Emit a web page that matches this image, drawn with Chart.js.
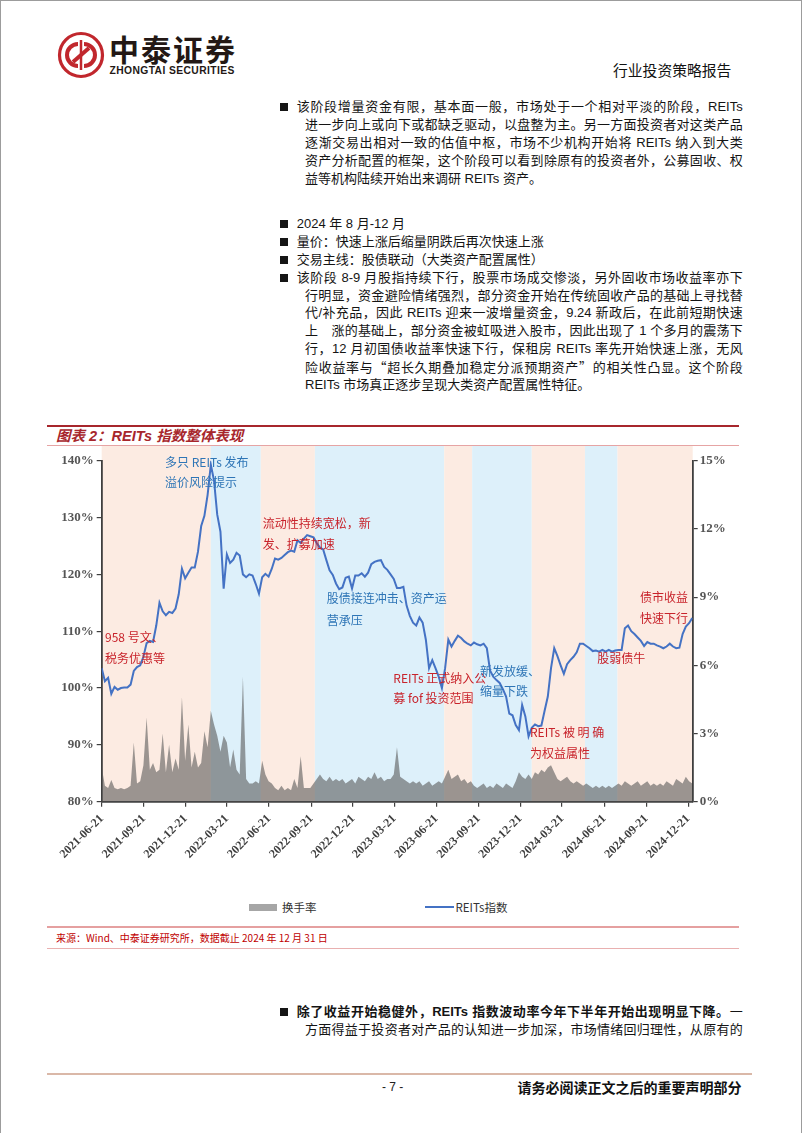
<!DOCTYPE html>
<html><head><meta charset="utf-8">
<script src="https://cdn.jsdelivr.net/npm/chart.js"></script>
<style>
html,body{margin:0;padding:0;background:#fff;}
#page{position:relative;width:802px;height:1133px;overflow:hidden;background:#fff;font-family:"Liberation Sans","Noto Sans CJK SC",sans-serif;color:#141414;}
.ln{position:absolute;font-size:13px;line-height:16px;height:16px;white-space:normal;overflow:visible;}
.j{text-align:justify;text-align-last:justify;}
.blt{position:absolute;width:8px;height:8px;background:#151515;}
.ann{position:absolute;font-family:"Noto Sans CJK SC",sans-serif;font-size:12px;line-height:14px;white-space:nowrap;}
.red{color:#c8232b}.blue{color:#2e75b6}
.rule{position:absolute;}
.cq{font-family:"Noto Sans CJK SC",sans-serif;}
</style></head>
<body>
<div id="page">
  <div class="rule" style="left:0;top:0;width:802px;height:1px;background:#9c9c9c"></div>
  <div class="rule" style="left:0;top:0;width:1px;height:1133px;background:#9c9c9c"></div>
  <div class="rule" style="left:801px;top:0;width:1px;height:1133px;background:#9c9c9c"></div>

  <!-- header -->
  <svg style="position:absolute;left:57px;top:31px" width="48" height="48" viewBox="0 0 48 48">
    <circle cx="24" cy="24" r="21.5" fill="#fff" stroke="#c1272d" stroke-width="3.2"/>
    <path d="M21 13 A11 11 0 1 0 21 35" fill="none" stroke="#c1272d" stroke-width="4"/>
    <path d="M27 13 A11 11 0 1 1 27 35" fill="none" stroke="#c1272d" stroke-width="4"/>
    <path d="M16 31 L32 17" stroke="#c1272d" stroke-width="4"/>
    <path d="M24 9 L24 39" stroke="#c1272d" stroke-width="2.5"/>
  </svg>
  <div style="position:absolute;left:109px;top:32px;font-family:'Noto Sans CJK SC';font-weight:bold;font-size:30px;line-height:33px;letter-spacing:2px;color:#231815">中泰证券</div>
  <div style="position:absolute;left:109.5px;top:65px;font-family:'Liberation Sans';font-weight:bold;font-size:10.3px;line-height:12px;letter-spacing:0.4px;color:#231815">ZHONGTAI SECURITIES</div>
  <div style="position:absolute;left:613px;top:62px;font-family:'Noto Sans CJK SC';font-size:14.8px;line-height:16px;color:#111">行业投资策略报告</div>

  <!-- paragraph 1 -->
  <div class="blt" style="left:279.5px;top:103.3px"></div>
  <div class="ln j" style="left:296.7px;top:99.3px;width:446px">该阶段增量资金有限，基本面一般，市场处于一个相对平淡的阶段，REITs</div>
  <div class="ln j" style="left:305px;top:117.3px;width:437.7px">进一步向上或向下或都缺乏驱动，以盘整为主。另一方面投资者对这类产品</div>
  <div class="ln j" style="left:305px;top:135.3px;width:437.7px">逐渐交易出相对一致的估值中枢，市场不少机构开始将 REITs 纳入到大类</div>
  <div class="ln j" style="left:305px;top:153.3px;width:437.7px">资产分析配置的框架，这个阶段可以看到除原有的投资者外，公募固收、权</div>
  <div class="ln" style="left:305px;top:171.3px;width:437.7px">益等机构陆续开始出来调研 REITs 资产。</div>

  <!-- block 2 -->
  <div class="blt" style="left:279.5px;top:220.3px"></div>
  <div class="ln" style="left:296.7px;top:216.3px;width:446px">2024 年 8 月-12 月</div>
  <div class="blt" style="left:279.5px;top:238.1px"></div>
  <div class="ln" style="left:296.7px;top:234.1px;width:446px">量价：快速上涨后缩量阴跌后再次快速上涨</div>
  <div class="blt" style="left:279.5px;top:255.9px"></div>
  <div class="ln" style="left:296.7px;top:251.9px;width:446px">交易主线：股债联动（大类资产配置属性）</div>
  <div class="blt" style="left:279.5px;top:273.7px"></div>
  <div class="ln j" style="left:296.7px;top:269.7px;width:446px">该阶段 8-9 月股指持续下行，股票市场成交惨淡，另外固收市场收益率亦下</div>
  <div class="ln j" style="left:305px;top:287.5px;width:437.7px">行明显，资金避险情绪强烈，部分资金开始在传统固收产品的基础上寻找替</div>
  <div class="ln j" style="left:305px;top:305.3px;width:437.7px">代/补充品，因此 REITs 迎来一波增量资金，9.24 新政后，在此前短期快速</div>
  <div class="ln j" style="left:305px;top:323.1px;width:437.7px">上　涨的基础上，部分资金被虹吸进入股市，因此出现了 1 个多月的震荡下</div>
  <div class="ln j" style="left:305px;top:340.9px;width:437.7px">行，12 月初国债收益率快速下行，保租房 REITs 率先开始快速上涨，无风</div>
  <div class="ln j" style="left:305px;top:358.7px;width:437.7px">险收益率与<span class="cq">“</span>超长久期叠加稳定分派预期资产<span class="cq">”</span>的相关性凸显。这个阶段</div>
  <div class="ln" style="left:305px;top:376.5px;width:437.7px">REITs 市场真正逐步呈现大类资产配置属性特征。</div>

  <!-- chart frame -->
  <div class="rule" style="left:47px;top:424.7px;width:692px;height:2px;background:#a7262c"></div>
  <div style="position:absolute;left:56px;top:428px;font-family:'Liberation Sans','Noto Sans CJK SC';font-weight:bold;font-style:italic;font-size:14.5px;line-height:16px;color:#a7262c">图表 2：REITs 指数整体表现</div>
  <div class="rule" style="left:47px;top:444.5px;width:692px;height:1px;background:#e6a4a4"></div>

  <div style="position:absolute;left:40px;top:446px;width:720px;height:420px">
    <canvas id="c" width="720" height="420" style="width:720px;height:420px"></canvas>
  </div>

  <!-- annotations -->
  <div class="ann blue" style="left:165px;top:454.7px">多只 REITs 发布</div>
  <div class="ann blue" style="left:165px;top:475.3px">溢价风险提示</div>
  <div class="ann red" style="left:262.7px;top:515.7px">流动性持续宽松，新</div>
  <div class="ann red" style="left:262.7px;top:537.3px">发、扩募加速</div>
  <div class="ann blue" style="left:326.7px;top:590.7px">股债接连冲击、资产运</div>
  <div class="ann blue" style="left:326.7px;top:613px">营承压</div>
  <div class="ann red" style="left:105px;top:630.3px">958 号文、</div>
  <div class="ann red" style="left:105px;top:651.3px">税务优惠等</div>
  <div class="ann red" style="left:393.3px;top:670.7px">REITs 正式纳入公</div>
  <div class="ann red" style="left:393.3px;top:691.3px">募 fof 投资范围</div>
  <div class="ann blue" style="left:480px;top:663.7px">新发放缓、</div>
  <div class="ann blue" style="left:480px;top:683.7px">缩量下跌</div>
  <div class="ann red" style="left:530px;top:724.7px">REITs 被 明 确</div>
  <div class="ann red" style="left:530px;top:746.3px">为权益属性</div>
  <div class="ann red" style="left:597.3px;top:651.3px">股弱债牛</div>
  <div class="ann red" style="left:640px;top:590.3px">债市收益</div>
  <div class="ann red" style="left:640px;top:611.3px">快速下行</div>

  <!-- legend -->
  <div class="rule" style="left:249px;top:904px;width:27.5px;height:7px;background:#a6a6a6"></div>
  <div style="position:absolute;left:282px;top:899.3px;font-family:'Noto Sans CJK SC';font-size:11.5px;line-height:16px;color:#333">换手率</div>
  <div class="rule" style="left:425px;top:906.3px;width:28.5px;height:2px;background:#4472c4"></div>
  <div style="position:absolute;left:455.5px;top:899.3px;font-family:'Noto Sans CJK SC';font-size:11.5px;line-height:16px;color:#333">REITs指数</div>

  <!-- source -->
  <div class="rule" style="left:47px;top:926px;width:692px;height:1.5px;background:#e5a0a0"></div>
  <div style="position:absolute;left:56px;top:931.2px;font-family:'Noto Sans CJK SC';font-size:10px;line-height:13px;color:#c00000">来源：Wind、中泰证券研究所，数据截止 2024 年 12 月 31 日</div>
  <div class="rule" style="left:47px;top:947.5px;width:692px;height:1.5px;background:#e9b0b0"></div>

  <!-- bottom paragraph -->
  <div class="blt" style="left:279.5px;top:1007.7px"></div>
  <div class="ln j" style="left:296.7px;top:1003.7px;width:446px"><b>除了收益开始稳健外，REITs 指数波动率今年下半年开始出现明显下降。</b>一</div>
  <div class="ln j" style="left:305px;top:1022px;width:437.7px">方面得益于投资者对产品的认知进一步加深，市场情绪回归理性，从原有的</div>

  <!-- footer -->
  <div class="rule" style="left:47px;top:1073.3px;width:705px;height:2px;background:#dab8a8"></div>
  <div style="position:absolute;left:382px;top:1079px;font-family:'Liberation Sans';font-size:12px;line-height:16px;color:#222">- 7 -</div>
  <div style="position:absolute;left:517.5px;top:1079px;font-family:'Noto Sans CJK SC';font-weight:bold;font-size:14px;line-height:16px;color:#111">请务必阅读正文之后的重要声明部分</div>
</div>

<script>
// ---------------- data ----------------
const dates = [
'2021-06-21','2021-06-28','2021-07-05','2021-07-12','2021-07-19','2021-07-26','2021-08-02','2021-08-09','2021-08-16','2021-08-23',
'2021-08-30','2021-09-06','2021-09-13','2021-09-20','2021-09-27','2021-10-04','2021-10-11','2021-10-18','2021-10-25','2021-11-01',
'2021-11-08','2021-11-15','2021-11-22','2021-11-29','2021-12-06','2021-12-13','2021-12-20','2021-12-27',
'2022-01-03','2022-01-10','2022-01-17','2022-01-24','2022-01-31','2022-02-07','2022-02-14','2022-02-21','2022-02-28','2022-03-07',
'2022-03-14','2022-03-21','2022-03-28','2022-04-04','2022-04-11','2022-04-18','2022-04-25','2022-05-02','2022-05-09','2022-05-16',
'2022-05-23','2022-05-30','2022-06-06','2022-06-13','2022-06-20','2022-06-27','2022-07-04','2022-07-11','2022-07-18','2022-07-25',
'2022-08-01','2022-08-08','2022-08-15','2022-08-22','2022-08-29','2022-09-05','2022-09-12','2022-09-19','2022-09-26','2022-10-03',
'2022-10-10','2022-10-17','2022-10-24','2022-10-31','2022-11-07','2022-11-14','2022-11-21','2022-11-28','2022-12-05','2022-12-12',
'2022-12-19','2022-12-26',
'2023-01-02','2023-01-09','2023-01-16','2023-01-23','2023-01-30','2023-02-06','2023-02-13','2023-02-20','2023-02-27','2023-03-06',
'2023-03-13','2023-03-20','2023-03-27','2023-04-03','2023-04-10','2023-04-17','2023-04-24','2023-05-01','2023-05-08','2023-05-15',
'2023-05-22','2023-05-29','2023-06-05','2023-06-12','2023-06-19','2023-06-26','2023-07-03','2023-07-10','2023-07-17','2023-07-24',
'2023-07-31','2023-08-07','2023-08-14','2023-08-21','2023-08-28','2023-09-04','2023-09-11','2023-09-18','2023-09-25','2023-10-02',
'2023-10-09','2023-10-16','2023-10-23','2023-10-30','2023-11-06','2023-11-13','2023-11-20','2023-11-27','2023-12-04','2023-12-11',
'2023-12-18','2023-12-25',
'2024-01-01','2024-01-08','2024-01-15','2024-01-22','2024-01-29','2024-02-05','2024-02-12','2024-02-19','2024-02-26','2024-03-04',
'2024-03-11','2024-03-18','2024-03-25','2024-04-01','2024-04-08','2024-04-15','2024-04-22','2024-04-29','2024-05-06','2024-05-13',
'2024-05-20','2024-05-27','2024-06-03','2024-06-10','2024-06-17','2024-06-24','2024-07-01','2024-07-08','2024-07-15','2024-07-22',
'2024-07-29','2024-08-05','2024-08-12','2024-08-19','2024-08-26','2024-09-02','2024-09-09','2024-09-16','2024-09-23','2024-09-30',
'2024-10-07','2024-10-14','2024-10-21','2024-10-28','2024-11-04','2024-11-11','2024-11-18','2024-11-25','2024-12-02','2024-12-09',
'2024-12-16','2024-12-23','2024-12-30'
];
// REITs指数 (%)
const reitsIndex = [
103.5,101.2,101.8,99.0,100.2,99.7,100.0,100.1,100.1,100.6,
103.0,103.7,104.0,105.5,107.9,108.3,108.1,111.0,115.0,113.5,
112.8,113.4,113.2,114.0,116.5,121.0,119.3,120.3,121.2,121.2,
124.0,128.5,130.3,134.0,139.3,136.5,130.5,127.5,117.5,123.5,
122.0,122.6,123.8,123.3,120.0,119.5,120.0,119.8,118.3,116.6,
119.5,120.1,119.6,121.0,122.8,122.6,122.9,123.4,123.9,124.2,
124.0,126.0,125.5,126.3,126.9,126.7,126.5,125.5,124.7,124.4,
122.5,120.7,119.9,118.4,117.4,117.7,119.4,119.6,117.5,119.8,
119.8,120.2,119.6,120.3,121.8,122.2,122.4,122.5,121.3,120.8,
120.0,119.2,117.6,117.6,117.8,114.5,112.7,111.5,111.0,112.4,
111.5,108.5,103.5,104.9,103.5,102.0,100.0,103.5,108.5,107.3,
108.3,109.2,108.8,108.2,107.8,107.5,108.0,107.7,107.5,107.8,
107.0,103.1,102.0,101.4,100.9,99.8,98.5,95.5,95.2,93.5,
92.6,97.0,95.0,91.5,93.0,93.6,93.3,93.4,96.0,98.5,
103.5,107.0,105.6,104.0,102.5,104.2,104.9,105.5,106.3,107.8,
107.8,107.4,107.0,106.5,106.6,106.4,106.7,106.4,106.7,106.4,
106.6,106.7,106.7,110.5,111.0,110.0,109.5,108.9,108.3,107.4,
108.1,107.8,107.8,107.5,107.3,107.0,107.3,107.8,107.3,107.0,
107.1,109.5,110.8,111.4,112.3
];
// 换手率 (%)
const turnoverRate = [
1.5,0.7,0.6,0.95,0.6,0.55,0.6,0.55,0.6,0.7,
2.6,0.8,0.9,1.6,3.7,1.4,1.7,1.3,1.4,3.0,
1.3,2.5,1.3,1.9,1.4,4.6,1.8,3.4,1.5,2.2,
1.5,1.7,3.1,2.4,4.0,3.4,2.9,2.2,2.9,2.6,
1.5,2.3,1.4,1.2,5.5,1.0,0.8,0.8,0.9,0.8,
1.8,1.2,0.9,0.8,0.6,0.5,0.7,0.5,0.6,0.5,
1.0,0.6,2.0,0.6,0.6,0.6,0.8,1.0,1.2,1.0,
0.9,1.1,0.9,1.0,0.9,1.0,0.8,0.9,1.0,0.8,
1.1,1.0,0.9,1.1,1.0,1.3,1.0,1.1,0.9,1.0,
1.0,1.2,2.4,1.1,1.0,0.9,0.8,0.9,0.8,0.9,
0.7,0.8,0.9,0.7,0.8,0.9,0.8,1.1,1.4,1.0,
1.1,1.2,0.9,1.0,0.8,0.9,0.7,0.6,0.7,0.8,
0.6,0.7,0.6,0.8,0.7,0.6,0.8,0.7,0.6,0.9,
1.3,1.1,1.0,1.2,1.0,1.3,1.2,1.4,1.3,1.5,
1.6,1.3,1.0,0.9,1.0,1.1,0.9,0.8,0.9,0.8,
0.7,0.8,0.7,0.6,0.7,0.6,0.7,0.6,0.7,0.6,
0.7,0.8,0.7,0.9,0.8,0.7,0.8,0.9,0.7,0.8,
0.9,0.7,0.8,0.7,0.8,0.7,0.9,0.8,0.7,1.0,
0.9,0.8,1.1,0.9,0.8
];
const xTickLabels = ['2021-06-21','2021-09-21','2021-12-21','2022-03-21','2022-06-21','2022-09-21','2022-12-21','2023-03-21','2023-06-21','2023-09-21','2023-12-21','2024-03-21','2024-06-21','2024-09-21','2024-12-21'];
const xRange = ['2021-06-21','2024-12-31'];
const leftTicks = [80,90,100,110,120,130,140];
const rightTicks = [0,3,6,9,12,15];
// 阶段分界（背景色带）
const phaseEdges = ['2021-06-21','2022-02-14','2022-06-03','2022-09-29','2023-07-08','2023-09-07','2024-01-15','2024-05-10','2024-07-20','2024-12-31'];

// ---------------- chart ----------------
const dayNum = s => Date.UTC(+s.slice(0,4), +s.slice(5,7)-1, +s.slice(8,10)) / 864e5;
const PEACH = '#fcebe2', SKY = '#ddf0fa';

const phasePlugin = {
  id: 'phases',
  beforeDraw(chart) {
    const {ctx, chartArea, scales} = chart;
    const x = scales.x;
    ctx.save();
    for (let k = 0; k < phaseEdges.length - 1; k++) {
      const x0 = x.getPixelForValue(dayNum(phaseEdges[k]));
      const x1 = x.getPixelForValue(dayNum(phaseEdges[k+1]));
      ctx.fillStyle = k % 2 === 0 ? PEACH : SKY;
      ctx.fillRect(x0, 0, x1 - x0, chartArea.bottom);
    }
    ctx.restore();
  }
};

const AX = '#3f3f3f';
const tickFont = {family: 'Liberation Serif', size: 13, weight: 'bold'};
function fix(w, h) {
  return function (s) {
    if (w != null) s.width = w;
    if (h != null) s.height = h;
    s.paddingTop = 0; s.paddingBottom = 0; s.paddingLeft = 0; s.paddingRight = 0;
  };
}

new Chart(document.getElementById('c'), {
  type: 'line',
  data: {
    datasets: [
      {
        label: 'REITs指数',
        yAxisID: 'y',
        data: dates.map((d, i) => ({x: dayNum(d), y: reitsIndex[i]})),
        borderColor: '#4472c4',
        borderWidth: 2,
        pointRadius: 0,
        tension: 0,
        fill: false,
        order: 1
      },
      {
        label: '换手率',
        yAxisID: 'y2',
        data: dates.map((d, i) => ({x: dayNum(d), y: turnoverRate[i]})),
        borderWidth: 0,
        borderColor: 'rgba(0,0,0,0)',
        backgroundColor: 'rgba(90,90,90,0.6)',
        pointRadius: 0,
        tension: 0,
        fill: 'origin',
        order: 2
      }
    ]
  },
  options: {
    responsive: false,
    animation: false,
    devicePixelRatio: 1,
    layout: {padding: {top: 14.7, left: 0, right: 0, bottom: 0}},
    plugins: {legend: {display: false}, tooltip: {enabled: false}},
    scales: {
      x: {
        type: 'linear',
        min: dayNum(xRange[0]),
        max: dayNum(xRange[1]),
        afterBuildTicks: s => { s.ticks = xTickLabels.map(l => ({value: dayNum(l)})); },
        afterFit: fix(null, 64.3),
        ticks: {
          autoSkip: false, minRotation: 45, maxRotation: 45,
          padding: 5, color: AX, font: {family: 'Liberation Serif', size: 12, weight: 'bold'},
          callback: (v, i) => xTickLabels[i]
        },
        grid: {drawOnChartArea: false, drawTicks: true, tickLength: 5, color: AX, lineWidth: 1.2},
        border: {display: true, color: AX, width: 1.8}
      },
      y: {
        position: 'left',
        min: leftTicks[0], max: leftTicks[leftTicks.length-1],
        afterBuildTicks: s => { s.ticks = leftTicks.map(v => ({value: v})); },
        afterFit: fix(61.7, null),
        ticks: {padding: 3, color: '#555', font: tickFont, callback: v => v + '%'},
        grid: {drawOnChartArea: false, drawTicks: true, tickLength: 5, color: AX, lineWidth: 1.2},
        border: {display: true, color: AX, width: 1.8}
      },
      y2: {
        position: 'right',
        min: rightTicks[0], max: rightTicks[rightTicks.length-1],
        afterBuildTicks: s => { s.ticks = rightTicks.map(v => ({value: v})); },
        afterFit: fix(67.3, null),
        ticks: {padding: 2, color: '#555', font: tickFont, callback: v => v + '%'},
        grid: {drawOnChartArea: false, drawTicks: true, tickLength: 5, color: AX, lineWidth: 1.2},
        border: {display: true, color: AX, width: 1.8}
      }
    }
  },
  plugins: [phasePlugin]
});
</script>
</body></html>
